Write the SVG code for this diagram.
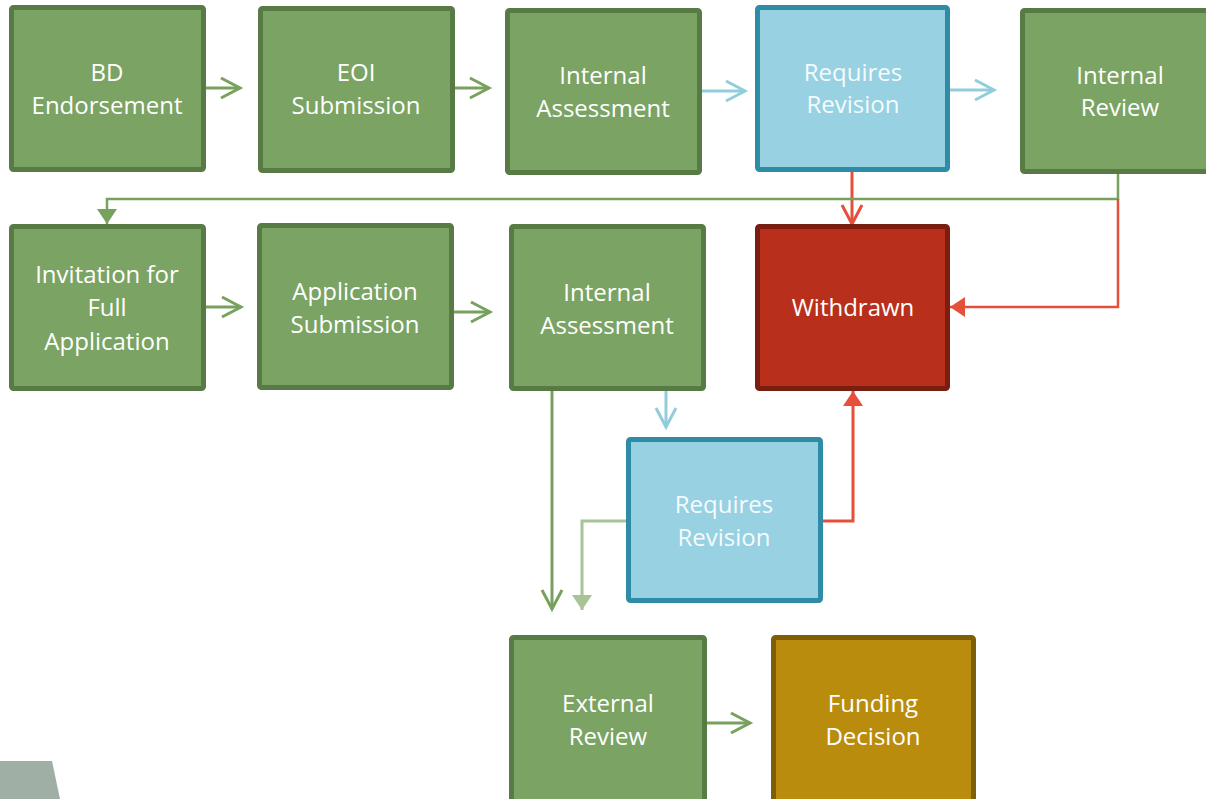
<svg xmlns="http://www.w3.org/2000/svg" width="1206" height="799" viewBox="0 0 1206 799">
<style>
.g rect{fill:#7BA363;stroke:#587A45;stroke-width:5}
.b rect{fill:#97D1E2;stroke:#2E8CA6;stroke-width:5}
.r rect{fill:#B8301C;stroke:#7B1E12;stroke-width:5}
.y rect{fill:#BA8C0E;stroke:#7F5E08;stroke-width:5}
text{font-family:"Open Sans","Noto Sans","DejaVu Sans",sans-serif;font-size:24px;fill:#ffffff;text-anchor:middle}
.b text{fill:#F6FBFD}
.c path{fill:none;stroke-width:3}
.cg{stroke:#79A15E}
.cb{stroke:#92CDDC}
.cr{stroke:#E4503A}
.cl{stroke:#A8C497}
</style>
<defs>
<marker id="ag" markerUnits="userSpaceOnUse" markerWidth="26" markerHeight="26" refX="21" refY="12" orient="auto"><path d="M2,2 L21,12 L2,22" fill="none" stroke="#79A15E" stroke-width="3"/></marker>
<marker id="ab" markerUnits="userSpaceOnUse" markerWidth="26" markerHeight="26" refX="21" refY="12" orient="auto"><path d="M2,2 L21,12 L2,22" fill="none" stroke="#92CDDC" stroke-width="3"/></marker>
<marker id="ar" markerUnits="userSpaceOnUse" markerWidth="26" markerHeight="26" refX="21" refY="12" orient="auto"><path d="M2,2 L21,12 L2,22" fill="none" stroke="#E4503A" stroke-width="3"/></marker>
<marker id="fg" markerUnits="userSpaceOnUse" markerWidth="20" markerHeight="22" refX="15" refY="11" orient="auto"><path d="M0,1 L15,11 L0,21 Z" fill="#79A15E"/></marker>
<marker id="fr" markerUnits="userSpaceOnUse" markerWidth="20" markerHeight="22" refX="15" refY="11" orient="auto"><path d="M0,1 L15,11 L0,21 Z" fill="#E4503A"/></marker>
<marker id="fl" markerUnits="userSpaceOnUse" markerWidth="20" markerHeight="22" refX="15" refY="11" orient="auto"><path d="M0,1 L15,11 L0,21 Z" fill="#A8C497"/></marker>
</defs>
<polygon points="0,761 52,761 60,799 0,799" fill="#9FAFA6"/>
<g class="c" id="connectors">
<path class="cg" d="M206,88 H240" marker-end="url(#ag)"/>
<path class="cg" d="M455,88 H489" marker-end="url(#ag)"/>
<path class="cb" d="M702,91 H745" marker-end="url(#ab)"/>
<path class="cb" d="M950,90 H994" marker-end="url(#ab)"/>
<path class="cr" d="M852,172 V224" marker-end="url(#ar)"/>
<path class="cg" d="M1118,174 V199 H107 V224" marker-end="url(#fg)" style="stroke-width:2.5"/>
<path class="cr" d="M1118,199 V307 H950" marker-end="url(#fr)" style="stroke-width:2.5"/>
<path class="cg" d="M206,307 H241" marker-end="url(#ag)"/>
<path class="cg" d="M454,312 H490" marker-end="url(#ag)"/>
<path class="cg" d="M552,391 V609" marker-end="url(#ag)"/>
<path class="cb" d="M666,391 V427" marker-end="url(#ab)"/>
<path class="cl" d="M626,521 H582 V610" marker-end="url(#fl)"/>
<path class="cr" d="M823,521 H853 V391" marker-end="url(#fr)"/>
<path class="cg" d="M707,723 H750" marker-end="url(#ag)"/>
</g>
<g id="n1" class="g"><rect x="11.5" y="7.5" width="192" height="162" rx="2"/><text x="107" y="81">BD</text><text x="107" y="114">Endorsement</text></g>
<g id="n2" class="g"><rect x="260.5" y="8.5" width="192" height="162" rx="2"/><text x="356" y="81">EOI</text><text x="356" y="114">Submission</text></g>
<g id="n3" class="g"><rect x="507.5" y="10.5" width="192" height="162" rx="2"/><text x="603" y="84">Internal</text><text x="603" y="117">Assessment</text></g>
<g id="n4" class="b"><rect x="757.5" y="7.5" width="190" height="162" rx="2"/><text x="853" y="81">Requires</text><text x="853" y="113">Revision</text></g>
<g id="n5" class="g"><rect x="1022.5" y="10.5" width="192" height="161" rx="2"/><text x="1120" y="84">Internal</text><text x="1120" y="116">Review</text></g>
<g id="n6" class="g"><rect x="11.5" y="226.5" width="192" height="162" rx="2"/><text x="107" y="283">Invitation for</text><text x="107" y="316">Full</text><text x="107" y="350">Application</text></g>
<g id="n7" class="g"><rect x="259.5" y="225.5" width="192" height="162" rx="2"/><text x="355" y="300">Application</text><text x="355" y="333">Submission</text></g>
<g id="n8" class="g"><rect x="511.5" y="226.5" width="192" height="162" rx="2"/><text x="607" y="301">Internal</text><text x="607" y="334">Assessment</text></g>
<g id="n9" class="r"><rect x="757.5" y="226.5" width="190" height="162" rx="2"/><text x="853" y="316">Withdrawn</text></g>
<g id="n10" class="b"><rect x="628.5" y="439.5" width="192" height="161" rx="2"/><text x="724" y="513">Requires</text><text x="724" y="546">Revision</text></g>
<g id="n11" class="g"><rect x="511.5" y="637.5" width="193" height="170" rx="2"/><text x="608" y="712">External</text><text x="608" y="745">Review</text></g>
<g id="n12" class="y"><rect x="773.5" y="637.5" width="200" height="170" rx="2"/><text x="873" y="712">Funding</text><text x="873" y="745">Decision</text></g>
</svg>
